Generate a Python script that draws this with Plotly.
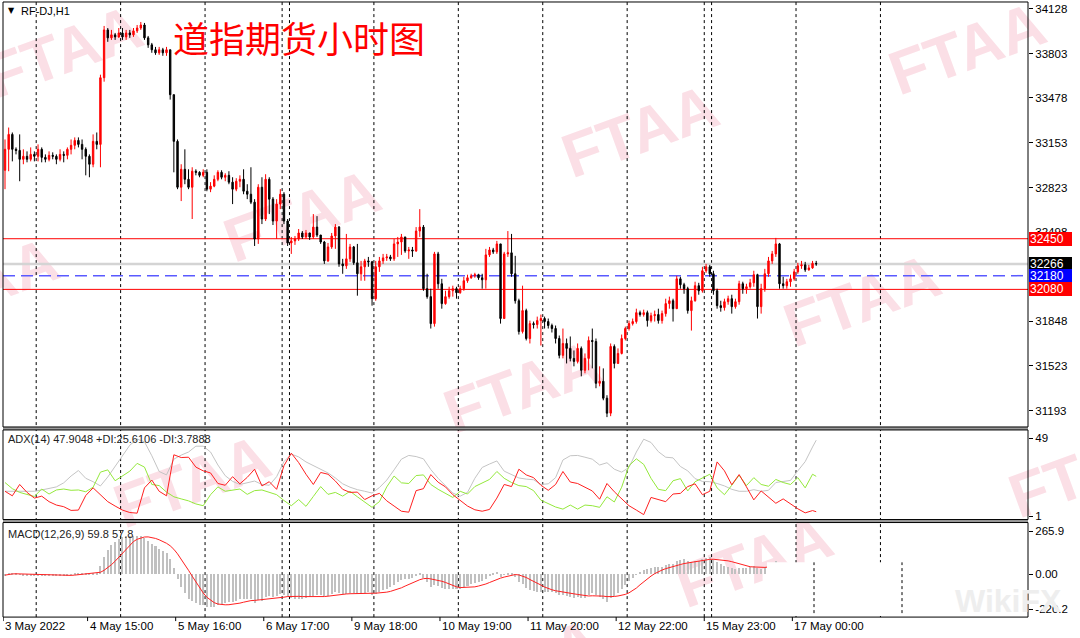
import plotly.graph_objects as go

# ---------------- data (H1 bars, RF-DJ, 3 May 2022 -> 17 May 2022) ----------------
open_ = [32950, 33103, 33212, 33103, 33095, 33030, 33052, 33030, 33066, 33052,
         33103, 33044, 33030, 33059, 33052, 33030, 33066, 33059, 33103, 33132,
         33168, 33139, 33103, 33052, 32994, 33161, 33139, 33626, 33975, 33917,
         33939, 33924, 33953, 33924, 33953, 33939, 33968, 33989, 34011, 33917,
         33866, 33830, 33808, 33830, 33808, 33830, 33502, 33161, 32826, 32957,
         32884, 32826, 32943, 32935, 32913, 32935, 32812, 32834, 32884, 32935,
         32899, 32913, 32863, 32812, 32870, 32884, 32797, 32775, 32717, 32448,
         32826, 32594, 32884, 32739, 32579, 32703, 32775, 32579, 32419, 32434,
         32448, 32492, 32463, 32492, 32463, 32535, 32477, 32426, 32288, 32390,
         32470, 32535, 32266, 32252, 32303, 32390, 32274, 32194, 32245, 32288,
         32281, 32012, 32245, 32288, 32310, 32317, 32303, 32412, 32426, 32463,
         32361, 32368, 32361, 32506, 32535, 32085, 32027, 31830, 32339, 32121,
         31976, 32027, 32070, 32085, 32056, 32085, 32143, 32165, 32179, 32187,
         32165, 32150, 32332, 32368, 32354, 32412, 31867, 32339, 32347, 32194,
         31997, 31772, 31925, 31721, 31830, 31823, 31852, 31867, 31845, 31816,
         31794, 31721, 31598, 31685, 31649, 31576, 31554, 31649, 31489, 31576,
         31707, 31699, 31394, 31409, 31285, 31176, 31663, 31539, 31612, 31721,
         31794, 31830, 31845, 31910, 31896, 31910, 31852, 31888, 31896, 31852,
         31903, 31976, 31997, 31939, 32157, 32114, 32085, 31925, 31997, 32107,
         32070, 32216, 32245, 32194, 32070, 31961, 31947, 31990, 32012, 31954,
         31990, 32121, 32085, 32099, 32128, 32187, 31954, 32085, 32194, 32288,
         32339, 32412, 32121, 32107, 32136, 32157, 32208, 32252, 32259, 32223,
         32237, 32270]
high = [33175, 33262, 33226, 33117, 33212, 33103, 33088, 33117, 33088, 33139,
        33117, 33066, 33088, 33081, 33066, 33103, 33088, 33117, 33175, 33190,
        33190, 33175, 33117, 33066, 33212, 33226, 33648, 34004, 33989, 33975,
        33953, 33989, 33989, 33975, 33975, 33989, 34011, 34033, 34026, 33931,
        33880, 33851, 33851, 33844, 33851, 33830, 33502, 33175, 32994, 33103,
        32957, 32972, 32957, 32943, 32957, 32957, 32863, 32913, 32950, 32950,
        32928, 32943, 32899, 32892, 32913, 32957, 32848, 32972, 32739, 32848,
        32899, 32921, 32899, 32754, 32739, 32812, 32790, 32594, 32463, 32470,
        32521, 32506, 32514, 32492, 32630, 32615, 32477, 32434, 32419, 32492,
        32557, 32543, 32303, 32485, 32412, 32397, 32412, 32288, 32303, 32317,
        32288, 32288, 32317, 32339, 32339, 32332, 32448, 32463, 32485, 32463,
        32390, 32390, 32535, 32666, 32550, 32194, 32085, 32354, 32354, 32157,
        32070, 32099, 32107, 32099, 32107, 32172, 32187, 32194, 32201, 32194,
        32194, 32376, 32390, 32383, 32434, 32412, 32354, 32506, 32485, 32325,
        32012, 32107, 31939, 31852, 31845, 31881, 31896, 31881, 31867, 31830,
        31816, 31743, 31794, 31721, 31736, 31634, 31685, 31663, 31612, 31736,
        31794, 31721, 31518, 31503, 31307, 31685, 31678, 31649, 31750, 31808,
        31852, 31867, 31939, 31925, 31932, 31925, 31910, 31925, 31939, 31925,
        32012, 32027, 32012, 32179, 32172, 32128, 32099, 32027, 32136, 32128,
        32245, 32266, 32259, 32216, 32085, 31997, 32012, 32034, 32041, 32012,
        32143, 32136, 32121, 32157, 32216, 32194, 32121, 32230, 32317, 32361,
        32456, 32419, 32172, 32157, 32187, 32230, 32274, 32288, 32281, 32259,
        32288, 32288]
low = [32812, 32943, 33015, 33066, 32870, 32994, 33008, 33015, 33015, 33015,
       33008, 33008, 33015, 33030, 32994, 33015, 33008, 33030, 33066, 33103,
       33117, 33030, 32913, 32899, 32972, 33103, 32972, 33597, 33888, 33902,
       33902, 33917, 33902, 33902, 33917, 33924, 33953, 33975, 33902, 33844,
       33808, 33793, 33793, 33786, 33786, 33466, 32935, 32812, 32725, 32848,
       32812, 32594, 32913, 32899, 32899, 32797, 32790, 32826, 32870, 32884,
       32870, 32848, 32703, 32797, 32826, 32775, 32739, 32703, 32397, 32412,
       32557, 32579, 32630, 32550, 32448, 32666, 32557, 32397, 32339, 32405,
       32434, 32448, 32448, 32441, 32448, 32463, 32412, 32266, 32281, 32376,
       32376, 32245, 32194, 32230, 32281, 32259, 32034, 32143, 32143, 32245,
       31961, 31997, 32208, 32266, 32288, 32288, 32288, 32317, 32332, 32347,
       32303, 32317, 32354, 32463, 32070, 32012, 31794, 31808, 32085, 31939,
       31968, 32012, 32027, 32012, 32048, 32070, 32128, 32157, 32165, 32150,
       32085, 32085, 32317, 32339, 32339, 31830, 31867, 32317, 32172, 31976,
       31750, 31758, 31707, 31685, 31794, 31794, 31670, 31794, 31794, 31765,
       31685, 31576, 31576, 31539, 31554, 31518, 31539, 31445, 31467, 31489,
       31503, 31358, 31372, 31270, 31147, 31154, 31503, 31539, 31605, 31707,
       31779, 31816, 31830, 31881, 31881, 31808, 31838, 31845, 31830, 31830,
       31881, 31939, 31845, 31939, 32085, 32048, 31903, 31779, 31990, 32041,
       32056, 32201, 32172, 32041, 31939, 31917, 31925, 31968, 31903, 31939,
       31968, 32048, 32048, 32085, 32099, 31867, 31903, 32063, 32172, 32266,
       32317, 32085, 32085, 32085, 32099, 32143, 32194, 32230, 32208, 32216,
       32230, 32252]
close = [33103, 33212, 33103, 33095, 33030, 33052, 33030, 33066, 33052, 33103,
         33044, 33030, 33059, 33052, 33030, 33066, 33059, 33103, 33132, 33168,
         33139, 33103, 33052, 32994, 33161, 33139, 33626, 33975, 33917, 33939,
         33924, 33953, 33924, 33953, 33939, 33968, 33989, 34011, 33917, 33866,
         33830, 33808, 33830, 33808, 33830, 33502, 33161, 32826, 32957, 32884,
         32826, 32943, 32935, 32913, 32935, 32812, 32834, 32884, 32935, 32899,
         32913, 32863, 32812, 32870, 32884, 32797, 32775, 32717, 32448, 32826,
         32594, 32884, 32739, 32579, 32703, 32775, 32579, 32419, 32434, 32448,
         32492, 32463, 32492, 32463, 32535, 32477, 32426, 32288, 32390, 32470,
         32535, 32266, 32252, 32303, 32390, 32274, 32194, 32245, 32288, 32281,
         32012, 32245, 32288, 32310, 32317, 32303, 32412, 32426, 32463, 32361,
         32368, 32361, 32506, 32535, 32085, 32027, 31830, 32339, 32121, 31976,
         32027, 32070, 32085, 32056, 32085, 32143, 32165, 32179, 32187, 32165,
         32150, 32332, 32368, 32354, 32412, 31867, 32339, 32347, 32194, 31997,
         31772, 31925, 31721, 31830, 31823, 31852, 31867, 31845, 31816, 31794,
         31721, 31598, 31685, 31649, 31576, 31554, 31649, 31489, 31576, 31707,
         31699, 31394, 31409, 31285, 31176, 31663, 31539, 31612, 31721, 31794,
         31830, 31845, 31910, 31896, 31910, 31852, 31888, 31896, 31852, 31903,
         31976, 31997, 31939, 32157, 32114, 32085, 31925, 31997, 32107, 32070,
         32216, 32245, 32194, 32070, 31961, 31947, 31990, 32012, 31954, 31990,
         32121, 32085, 32099, 32128, 32187, 31954, 32085, 32194, 32288, 32339,
         32412, 32121, 32107, 32136, 32157, 32208, 32252, 32259, 32223, 32237,
         32270, 32266]

# ADX(14) window, every second bar (plus the last bar)
adx_bar = [0, 2, 4, 6, 8, 10, 12, 14, 16, 18, 20, 22, 24, 26, 28, 30, 32, 34, 36, 38,
           40, 42, 44, 46, 48, 50, 52, 54, 56, 58, 60, 62, 64, 66, 68, 70, 72, 74, 76, 78,
           80, 82, 84, 86, 88, 90, 92, 94, 96, 98, 100, 102, 104, 106, 108, 110, 112, 114, 116, 118,
           120, 122, 124, 126, 128, 130, 132, 134, 136, 138, 140, 142, 144, 146, 148, 150, 152, 154, 156, 158,
           160, 162, 164, 166, 168, 170, 172, 174, 176, 178, 180, 182, 184, 186, 188, 190, 192, 194, 196, 198,
           200, 202, 204, 206, 208, 210, 212, 214, 216, 218, 220, 221]
adx_main = [16.4, 16.4, 16.4, 16.4, 16.4, 17.2, 18.3, 19.1, 21.6, 25.8,
            29.2, 24.4, 22.3, 19.7, 25.2, 31.7, 38.5, 44.8, 48.6, 46.9,
            38.3, 28.6, 26.5, 36.2, 38.7, 40.6, 44.2, 44.2, 40.6, 32.6,
            26.0, 22.5, 20.6, 21.6, 22.7, 20.6, 20.1, 25.4, 34.7, 39.3,
            37.6, 34.5, 32.2, 30.1, 27.7, 24.6, 21.0, 18.9, 17.4, 16.4,
            15.3, 18.7, 23.3, 29.6, 36.2, 38.5, 37.8, 36.4, 29.8, 24.4,
            19.7, 15.3, 13.4, 15.7, 24.4, 31.1, 33.2, 35.1, 28.8, 26.5,
            24.6, 23.9, 23.5, 20.6, 21.0, 24.8, 35.7, 38.3, 38.5, 37.4,
            36.2, 32.6, 34.0, 30.0, 28.2, 31.1, 40.6, 48.5, 46.5, 40.8,
            37.4, 37.0, 31.7, 29.0, 24.2, 22.5, 22.3, 21.2, 19.7, 17.6,
            16.4, 16.4, 17.4, 16.4, 17.0, 21.8, 22.5, 23.1, 29.0, 34.7,
            43.7, 47.9]
adx_plus_di = [21.8, 18.0, 15.7, 14.3, 13.2, 17.8, 14.7, 17.2, 17.8, 17.0,
               17.2, 16.1, 18.9, 28.2, 29.6, 22.9, 25.8, 28.8, 33.6, 31.3,
               20.6, 19.9, 15.9, 13.0, 11.7, 10.5, 8.6, 7.5, 14.3, 19.1,
               16.4, 17.0, 17.8, 14.5, 16.8, 17.2, 15.7, 14.3, 10.7, 7.5,
               11.3, 7.1, 13.2, 19.3, 14.5, 15.7, 13.4, 16.4, 13.0, 9.6,
               6.5, 10.0, 19.1, 25.8, 21.6, 21.2, 26.1, 26.5, 20.6, 17.6,
               14.9, 12.6, 16.4, 14.7, 19.3, 21.6, 23.7, 28.6, 24.4, 21.8,
               19.9, 19.3, 16.8, 10.9, 8.6, 6.7, 5.4, 7.9, 5.4, 7.9,
               7.5, 6.5, 13.0, 9.8, 18.9, 32.2, 36.4, 33.0, 24.4, 17.6,
               16.8, 22.9, 24.2, 16.6, 22.3, 24.8, 26.9, 18.5, 14.3, 20.1,
               26.3, 19.9, 24.8, 20.6, 19.5, 23.7, 21.8, 20.6, 24.8, 18.5,
               26.9, 25.6]
adx_minus_di = [16.4, 13.6, 20.6, 15.7, 12.2, 13.4, 10.0, 7.9, 6.9, 4.6,
                4.8, 13.8, 18.5, 14.5, 10.0, 7.3, 4.8, 3.3, 2.9, 18.5,
                23.3, 16.4, 13.6, 38.9, 37.2, 37.4, 31.3, 29.0, 27.7, 21.2,
                20.1, 25.4, 21.0, 25.0, 30.0, 19.7, 22.3, 17.6, 32.2, 39.9,
                34.1, 26.9, 20.6, 28.0, 26.9, 22.7, 17.6, 15.7, 15.9, 11.3,
                13.6, 15.1, 10.5, 7.3, 4.1, 3.5, 16.8, 18.0, 26.7, 22.0,
                19.1, 14.3, 10.7, 7.3, 5.0, 4.1, 5.2, 12.2, 20.6, 19.3,
                30.0, 26.5, 24.8, 20.1, 17.0, 20.6, 28.6, 22.1, 21.2, 19.1,
                16.6, 11.5, 21.2, 16.1, 12.0, 7.5, 4.8, 2.0, 12.6, 11.1,
                10.0, 14.7, 15.1, 19.3, 21.0, 14.3, 16.4, 34.5, 29.0, 20.4,
                26.7, 19.1, 11.1, 16.6, 12.8, 9.0, 11.7, 8.4, 5.6, 3.1,
                4.5, 3.8]

# first bar of each new day (period separators), in bar numbers
day_start_bar = [9, 32, 55, 76, 78, 101, 124, 147, 170, 191, 193, 216, 239]
time_labels = ["3 May 2022", "4 May 15:00", "5 May 16:00", "6 May 17:00", "9 May 18:00",
               "10 May 19:00", "11 May 20:00", "12 May 22:00", "15 May 23:00", "17 May 00:00"]
time_label_bar = [0, 23, 47, 71, 95, 119, 143, 167, 191, 215]

price_ticks = [34128, 33803, 33478, 33153, 32823, 32498, 31848, 31523, 31193]
level_resistance = 32450
level_pivot = 32180
level_support = 32080
last_price = 32266
adx_ticks = [49, 1]
macd_ticks = [265.9, 0.0, -220.2]
macd_ticktext = ["265.9", "0.00", "-220.2"]

symbol_text = "RF-DJ,H1"
title_cn = "道指期货小时图"
adx_caption = "ADX(14) 47.9048 +DI:25.6106 -DI:3.7888"
macd_caption = "MACD(12,26,9) 59.8 57.8"
watermark = "FTAA"

bars = list(range(len(close)))


# ---------------- MACD(12,26,9) as MT4 defines it ----------------
def ema(vals, period):
    a = 2.0 / (period + 1)
    out = [sum(vals[:period]) / period]
    for v in vals[1:]:
        out.append(out[-1] + a * (v - out[-1]))
    return out


def sma(vals, period):
    out = []
    for i in range(len(vals)):
        w = vals[max(0, i - period + 1): i + 1]
        out.append(sum(w) / len(w))
    return out


macd_main = [a - b for a, b in zip(ema(close, 12), ema(close, 26))]
macd_signal = sma(macd_main, 9)

# ---------------- layout helpers ----------------
W, H = 1080, 638


def fx(px):
    return px / W


def fy(py):
    return 1 - py / H


PX_L, PX_R = 3, 1028
MAIN_T, MAIN_B = 2, 429
ADX_T, ADX_B = 432, 522
MACD_T, MACD_B = 525, 620
FONT = "Liberation Sans"

fig = go.Figure()

fig.add_trace(go.Candlestick(
    x=bars, open=open_, high=high, low=low, close=close,
    increasing=dict(line=dict(color="#ff0000", width=1), fillcolor="#ff0000"),
    decreasing=dict(line=dict(color="#000000", width=1), fillcolor="#000000"),
    whiskerwidth=0, xaxis="x", yaxis="y", showlegend=False, hoverinfo="skip"))

fig.add_trace(go.Scatter(x=adx_bar, y=adx_main, mode="lines", line=dict(color="#c4c4c4", width=1),
                         xaxis="x", yaxis="y2", showlegend=False, hoverinfo="skip"))
fig.add_trace(go.Scatter(x=adx_bar, y=adx_plus_di, mode="lines", line=dict(color="#94e83c", width=1),
                         xaxis="x", yaxis="y2", showlegend=False, hoverinfo="skip"))
fig.add_trace(go.Scatter(x=adx_bar, y=adx_minus_di, mode="lines", line=dict(color="#ff2020", width=1),
                         xaxis="x", yaxis="y2", showlegend=False, hoverinfo="skip"))

fig.add_trace(go.Bar(x=bars, y=macd_main, width=0.55, marker=dict(color="#c0c0c0", line=dict(width=0)),
                     xaxis="x", yaxis="y3", showlegend=False, hoverinfo="skip"))
fig.add_trace(go.Scatter(x=bars, y=macd_signal, mode="lines", line=dict(color="#ff2020", width=1),
                         xaxis="x", yaxis="y3", showlegend=False, hoverinfo="skip"))

shapes = []
annotations = []

# watermarks (behind data)
wm_centers = [(62, 46), (638, 126), (965, 43), (300, 211), (-22, 280), (520, 383),
              (860, 296), (190, 478), (1085, 468), (752, 558), (520, 663)]
for cx, cy in wm_centers:
    shapes.append(dict(type="rect", xref="paper", yref="paper",
                       x0=fx(cx - 90), x1=fx(cx + 90), y0=fy(cy + 40), y1=fy(cy - 40),
                       line=dict(width=0), fillcolor="rgba(0,0,0,0)", layer="below",
                       label=dict(text=watermark, textangle=-20, textposition="middle center",
                                  font=dict(family=FONT, size=62, color="#fbdfe6", weight="bold"))))

# period separators
for b in day_start_bar:
    shapes.append(dict(type="line", xref="x", yref="paper", x0=b - 0.5, x1=b - 0.5,
                       y0=fy(MACD_B), y1=fy(MAIN_T), layer="below",
                       line=dict(color="#000000", width=1, dash="3px,3px")))

# horizontal levels
x_l, x_r = fx(PX_L), fx(PX_R)
shapes.append(dict(type="line", xref="paper", yref="y", x0=x_l, x1=x_r, y0=last_price, y1=last_price,
                   line=dict(color="#d4d4d4", width=2.5), layer="below"))
shapes.append(dict(type="line", xref="paper", yref="y", x0=x_l, x1=x_r, y0=level_resistance, y1=level_resistance,
                   line=dict(color="#ff0000", width=1), layer="below"))
shapes.append(dict(type="line", xref="paper", yref="y", x0=x_l, x1=x_r, y0=level_support, y1=level_support,
                   line=dict(color="#ff0000", width=1), layer="below"))
shapes.append(dict(type="line", xref="paper", yref="y", x0=x_l, x1=x_r, y0=level_pivot, y1=level_pivot,
                   line=dict(color="#5a5aff", width=1.5, dash="12px,6px"), layer="below"))

# white patch over the lower-right of the MACD window
shapes.append(dict(type="rect", xref="paper", yref="paper", x0=fx(767), x1=fx(1027),
                   y0=fy(619), y1=fy(565), line=dict(width=0), fillcolor="#ffffff", layer="above"))
for pxv in (814, 902):
    shapes.append(dict(type="line", xref="paper", yref="paper", x0=fx(pxv), x1=fx(pxv),
                       y0=fy(616), y1=fy(565), layer="above",
                       line=dict(color="#000000", width=1, dash="3px,3px")))

# panel separators and frames
for top, bot in ((MAIN_B, ADX_T), (ADX_B, MACD_T)):
    shapes.append(dict(type="rect", xref="paper", yref="paper", x0=fx(PX_L), x1=fx(PX_R),
                       y0=fy(bot), y1=fy(top), line=dict(width=0), fillcolor="#9a9a9a", layer="above"))
for top, bot in ((MAIN_T, MAIN_B), (ADX_T, ADX_B), (MACD_T, MACD_B)):
    shapes.append(dict(type="rect", xref="paper", yref="paper", x0=fx(PX_L), x1=fx(PX_R),
                       y0=fy(bot), y1=fy(top), line=dict(color="#000000", width=1),
                       fillcolor="rgba(0,0,0,0)", layer="above"))

# time-axis ticks and labels
for b, t in zip(time_label_bar, time_labels):
    shapes.append(dict(type="line", xref="x", yref="paper", x0=b - 0.5, x1=b - 0.5,
                       y0=fy(MACD_B + 4), y1=fy(MACD_B), line=dict(color="#000000", width=1)))
    annotations.append(dict(x=b - 0.5, y=fy(629), xref="x", yref="paper", text=t, showarrow=False,
                            xanchor="left", yanchor="middle", font=dict(family=FONT, size=11.5, color="#000000")))

# price tags on the right
for val, bg in ((level_resistance, "#ff0000"), (last_price, "#000000"),
                (level_pivot, "#0000ff"), (level_support, "#ff0000")):
    annotations.append(dict(x=fx(1029), y=val, xref="paper", yref="y", text=str(val), showarrow=False,
                            xanchor="left", yanchor="middle", bgcolor=bg, borderpad=1, borderwidth=0,
                            width=41, height=12, align="left",
                            font=dict(family=FONT, size=12, color="#ffffff")))

# captions
annotations.append(dict(x=fx(6), y=fy(11), xref="paper", yref="paper", text="▼", showarrow=False,
                        xanchor="left", yanchor="middle", font=dict(family="DejaVu Sans", size=8, color="#000000")))
annotations.append(dict(x=fx(19), y=fy(11), xref="paper", yref="paper", text=symbol_text, showarrow=False,
                        xanchor="left", yanchor="middle", font=dict(family=FONT, size=11, color="#000000")))
annotations.append(dict(x=fx(171), y=fy(37), xref="paper", yref="paper", text=title_cn, showarrow=False,
                        xanchor="left", yanchor="middle",
                        font=dict(family="Noto Sans CJK SC", size=36, color="#ff0000")))
annotations.append(dict(x=fx(6), y=fy(441), xref="paper", yref="paper", text=adx_caption, showarrow=False,
                        xanchor="left", yanchor="middle", font=dict(family=FONT, size=11, color="#222222")))
annotations.append(dict(x=fx(6), y=fy(537), xref="paper", yref="paper", text=macd_caption, showarrow=False,
                        xanchor="left", yanchor="middle", font=dict(family=FONT, size=11, color="#222222")))
annotations.append(dict(x=fx(1008), y=fy(604), xref="paper", yref="paper", text="WikiFX", showarrow=False,
                        xanchor="center", yanchor="middle",
                        font=dict(family=FONT, size=32, color="#eeeeee", weight="bold")))

axis_common = dict(showgrid=False, zeroline=False, showline=False, side="right", anchor="x",
                   ticks="outside", ticklen=4, tickcolor="#000000", tickwidth=1,
                   tickfont=dict(family=FONT, size=11.5, color="#000000"), fixedrange=True)

fig.update_layout(
    width=W, height=H, margin=dict(l=0, r=0, t=0, b=0),
    paper_bgcolor="#ffffff", plot_bgcolor="rgba(0,0,0,0)",
    boxgap=0.45, bargap=0, showlegend=False,
    xaxis=dict(domain=[fx(PX_L), fx(PX_R)], range=[-0.545, 278.7], anchor="y3",
               showgrid=False, zeroline=False, showline=False, showticklabels=False, ticks="",
               rangeslider=dict(visible=False), fixedrange=True),
    yaxis=dict(domain=[fy(MAIN_B), fy(MAIN_T)], range=[31075, 34179],
               tickvals=price_ticks, ticktext=[str(v) for v in price_ticks], **axis_common),
    yaxis2=dict(domain=[fy(ADX_B), fy(ADX_T)], range=[-1.03, 54.2],
                tickvals=adx_ticks, ticktext=[str(v) for v in adx_ticks], **axis_common),
    yaxis3=dict(domain=[fy(MACD_B), fy(MACD_T)], range=[-268, 320.4],
                tickvals=macd_ticks, ticktext=macd_ticktext, **axis_common),
    shapes=shapes, annotations=annotations,
)

fig.write_html("out.html", config={"displayModeBar": False},
               post_script="document.body.style.margin='0px';document.body.style.overflow='hidden';")
